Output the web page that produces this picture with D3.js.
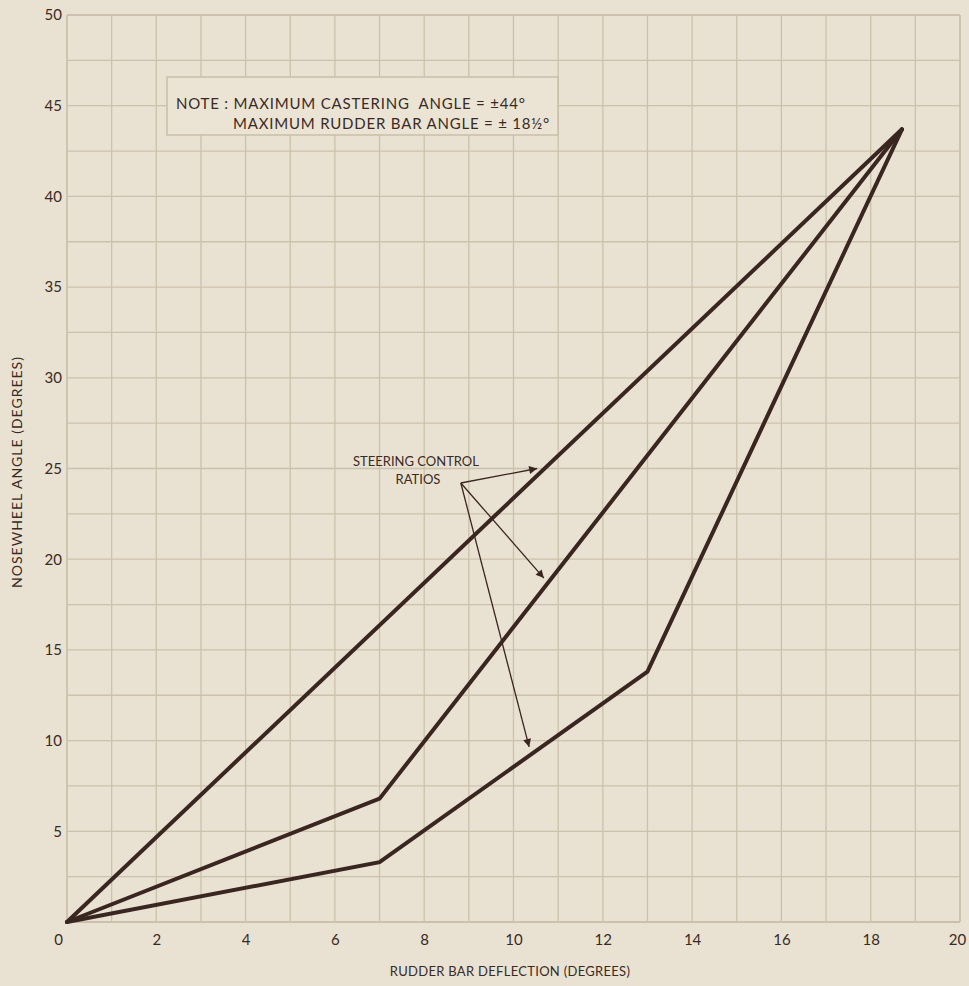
<!DOCTYPE html>
<html><head><meta charset="utf-8">
<script src="https://cdn.jsdelivr.net/npm/d3@7"></script>
<style>
html,body{margin:0;padding:0;background:#e9e1d1;}
svg{display:block;}
text{font-family:"Lato","Open Sans",sans-serif;fill:#3a2a24;}
</style></head>
<body>
<svg id="chart" width="969" height="986"></svg>
<script>
// Data
const xTicks = [0, 2, 4, 6, 8, 10, 12, 14, 16, 18, 20];
const yTicks = [5, 10, 15, 20, 25, 30, 35, 40, 45, 50];
const curveLinear = [[0, 0], [18.7, 43.7]];
const curveMiddle = [[0, 0], [7, 6.8], [18.7, 43.7]];
const curveLow = [[0, 0], [7, 3.3], [13, 13.8], [18.7, 43.7]];
const arrowOrigin = [8.82, 24.2];
const arrowTips = [[10.53, 25.0], [10.68, 18.96], [10.35, 9.65]];
const noteLines = ["NOTE : MAXIMUM CASTERING  ANGLE = \u00B144\u00B0", "MAXIMUM RUDDER BAR ANGLE = \u00B1 18\u00BD\u00B0"];
const calloutLines = ["STEERING CONTROL", "RATIOS"];
const xTitle = "RUDDER BAR DEFLECTION (DEGREES)";
const yTitle = "NOSEWHEEL ANGLE (DEGREES)";

const svg = d3.select("#chart");
const L = 67, R = 960, T = 15, B = 922;
const x = d3.scaleLinear().domain([0, 20]).range([L, R]);
const y = d3.scaleLinear().domain([0, 50]).range([B, T]);
const ink = "#3a2620", grid = "#ccc2ab";

svg.append("rect").attr("width", 969).attr("height", 986).attr("fill", "#e9e1d1");

// grid
const g = svg.append("g");
g.selectAll("line.v").data(d3.range(0, 21)).join("line")
  .attr("x1", d => x(d)).attr("x2", d => x(d)).attr("y1", T).attr("y2", B)
  .attr("stroke", grid).attr("stroke-width", d => (d === 0 || d === 20) ? 1.8 : 1.3);
g.selectAll("line.h").data(d3.range(0, 50.1, 2.5)).join("line")
  .attr("y1", d => y(d)).attr("y2", d => y(d)).attr("x1", L).attr("x2", R)
  .attr("stroke", grid).attr("stroke-width", d => (d === 0 || d === 50) ? 1.8 : 1.3);

// tick labels
const xAxis = d3.axisBottom(x).tickValues(xTicks).tickSize(0).tickPadding(12).tickFormat(d3.format("d"));
const xa = svg.append("g").attr("transform", `translate(0,${B})`).call(xAxis);
xa.select(".domain").remove();
xa.selectAll("text").attr("font-size", 15).attr("font-family", "Lato, 'Open Sans', sans-serif").attr("fill", "#3a2a24")
  .attr("dx", d => d === 0 ? -9 : (d === 20 ? -3 : 0));

const yAxis = d3.axisLeft(y).tickValues(yTicks).tickSize(0).tickPadding(5).tickFormat(d3.format("d"));
const ya = svg.append("g").attr("transform", `translate(${L},0)`).call(yAxis);
ya.select(".domain").remove();
ya.selectAll("text").attr("font-size", 15).attr("font-family", "Lato, 'Open Sans', sans-serif").attr("fill", "#3a2a24");

// titles
svg.append("text").attr("x", 510).attr("y", 976).attr("text-anchor", "middle")
  .attr("font-size", 13).attr("letter-spacing", 0.3).text(xTitle);
svg.append("text").attr("transform", "translate(22,472) rotate(-90)").attr("text-anchor", "middle")
  .attr("font-size", 14).attr("letter-spacing", 1).text(yTitle);

// note box
svg.append("rect").attr("x", 167).attr("y", 77).attr("width", 391).attr("height", 58)
  .attr("fill", "#ebe4d5").attr("stroke", "#c9bfa8").attr("stroke-width", 1.5);
svg.append("text").attr("x", 176).attr("y", 109).attr("font-size", 15).attr("letter-spacing", 0.8)
  .attr("xml:space", "preserve").text(noteLines[0]);
svg.append("text").attr("x", 233).attr("y", 129).attr("font-size", 15).attr("letter-spacing", 0.8)
  .attr("xml:space", "preserve").text(noteLines[1]);

// curves
const line = d3.line().x(d => x(d[0])).y(d => y(d[1]));
[curveLinear, curveMiddle, curveLow].forEach(c => {
  svg.append("path").attr("d", line(c)).attr("fill", "none").attr("stroke", ink)
    .attr("stroke-width", 4).attr("stroke-linejoin", "miter").attr("stroke-linecap", "round");
});

// callout
svg.append("defs").append("marker").attr("id", "ah").attr("viewBox", "0 0 10 10")
  .attr("refX", 10).attr("refY", 5).attr("markerWidth", 10).attr("markerHeight", 8)
  .attr("markerUnits", "userSpaceOnUse").attr("orient", "auto")
  .append("path").attr("d", "M0,0 L10,5 L0,10 Z").attr("fill", ink);
arrowTips.forEach(t => {
  svg.append("line").attr("x1", x(arrowOrigin[0])).attr("y1", y(arrowOrigin[1]))
    .attr("x2", x(t[0])).attr("y2", y(t[1])).attr("stroke", ink).attr("stroke-width", 1.3)
    .attr("marker-end", "url(#ah)");
});
svg.append("text").attr("x", 416).attr("y", 466).attr("text-anchor", "middle").attr("font-size", 13).text(calloutLines[0]);
svg.append("text").attr("x", 418).attr("y", 484).attr("text-anchor", "middle").attr("font-size", 13).text(calloutLines[1]);
</script>
</body></html>
